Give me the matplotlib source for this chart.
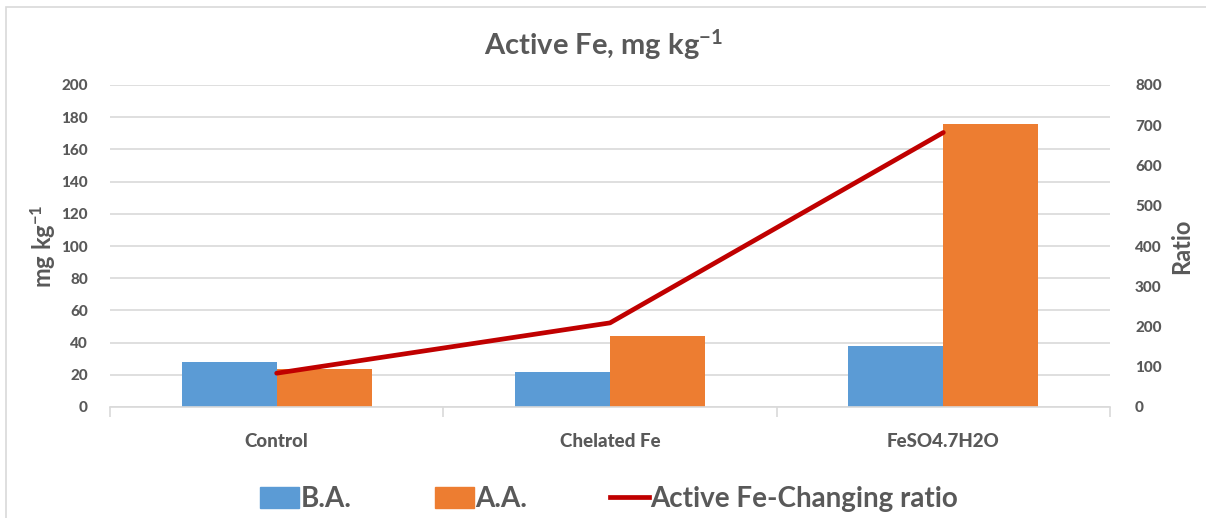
import numpy as np
import matplotlib.pyplot as plt
from matplotlib.patches import Rectangle, Patch
from matplotlib.lines import Line2D

# active Fe before / after application, mg kg-1
treatments = ["Control", "Chelated Fe", "FeSO4.7H2O"]
before_app = [28.0, 21.9, 37.9]
after_app = [23.4, 43.9, 175.6]
# active Fe changing ratio (right axis)
change_ratio = [84, 209, 682]

left_ticks = list(range(0, 201, 20))
right_ticks = list(range(0, 801, 100))

txt = "#595959"
grid = "#d9d9d9"
blue = "#5b9bd5"
orange = "#ed7d31"
red = "#c00000"

plt.rcParams['font.family'] = ['Lato', 'DejaVu Sans']
plt.rcParams['mathtext.fontset'] = 'custom'
plt.rcParams['mathtext.rm'] = 'Lato'
plt.rcParams['mathtext.bf'] = 'Lato:bold'
plt.rcParams['mathtext.default'] = 'bf'

fig = plt.figure(figsize=(12.06, 5.18), dpi=100)
ax = fig.add_axes([110/1206, 1-407/518, 1000/1206, 322/518])

# outer chart frame
fig.patches.append(Rectangle((6/1206, -0.1), 1.2, 1-7/518+0.1, transform=fig.transFigure,
                             fill=False, edgecolor="#d9d9d9", lw=1.2, zorder=0))

x = np.arange(len(treatments))
w = 0.285
ax.bar(x - w/2, before_app, w, color=blue, zorder=2)
ax.bar(x + w/2, after_app, w, color=orange, zorder=2)

ax.set_xlim(-0.5, 2.5)
ax.set_ylim(0, 200)
ax.set_yticks(left_ticks)
ax.yaxis.grid(True, color=grid, lw=1.2, zorder=0)
ax.set_axisbelow(True)
for s in ["top", "right", "left"]:
    ax.spines[s].set_visible(False)
ax.spines["bottom"].set_color(grid)
ax.spines["bottom"].set_linewidth(1.2)
ax.tick_params(axis="y", length=0, pad=16, labelsize=11, labelcolor=txt)
ax.set_xticks(x)
ax.set_xticklabels(treatments, fontsize=13.5, fontweight=900, color=txt)
ax.tick_params(axis="x", length=0, pad=19)
# category separator ticks
ax.set_xticks([-0.5, 0.5, 1.5, 2.5], minor=True)
ax.tick_params(axis="x", which="minor", length=7, color=grid, width=1.2)
for lb in ax.get_yticklabels():
    lb.set_fontweight(900)
ax.set_ylabel("mg kg$^{-1}$", fontsize=17, color=txt, labelpad=2, fontweight="bold")

ax2 = ax.twinx()
ax2.plot(x, change_ratio, color=red, lw=3.4, solid_capstyle="round", zorder=3)
ax2.set_ylim(0, 800)
ax2.set_yticks(right_ticks)
for s in ax2.spines.values():
    s.set_visible(False)
ax2.tick_params(axis="y", length=0, pad=18, labelsize=11, labelcolor=txt)
for lb in ax2.get_yticklabels():
    lb.set_fontweight(900)
ax2.set_ylabel("Ratio", fontsize=17, color=txt, labelpad=6, fontweight="bold")

fig.text(0.5, 1-45/518, "Active Fe, mg kg$^{-1}$", ha="center", va="center",
         fontsize=21, color=txt, fontweight="bold")

handles = [Patch(color=blue), Patch(color=orange), Line2D([], [], color=red, lw=3.4)]
fig.legend(handles, ["B.A.", "A.A.", "Active Fe-Changing ratio"], loc="center left",
           bbox_to_anchor=(260/1206, 1-499/518), ncol=3, frameon=False,
           borderpad=0, borderaxespad=0,
           prop={"size": 20, "weight": "bold"}, labelcolor=txt,
           handlelength=1.4, handleheight=0.8, handletextpad=0.05, columnspacing=3.0)

fig.savefig("out.png", dpi=100)
